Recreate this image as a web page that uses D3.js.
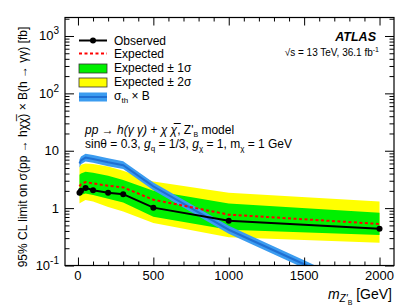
<!DOCTYPE html>
<html>
<head>
<meta charset="utf-8">
<script src="https://cdn.jsdelivr.net/npm/d3@7"></script>
<style>
  body { margin: 0; background: #fff; }
  text { font-family: "Liberation Sans", Arial, sans-serif; }
</style>
</head>
<body>
<svg id="chart" width="407" height="305"></svg>
<script>
// mass points (GeV) and limits (fb)
const mass = [10, 20, 50, 100, 200, 300, 500, 1000, 2000];
const observed = [1.85, 2.0, 2.25, 2.05, 1.85, 1.75, 1.02, 0.6, 0.435];
const expected = [2.4, 2.6, 2.85, 2.7, 2.45, 2.3, 1.4, 0.77, 0.53];
const plus1 = [3.8, 4.0, 4.3, 4.15, 3.65, 3.1, 2.0, 1.2, 0.83];
const minus1 = [1.6, 1.7, 1.8, 1.7, 1.45, 1.25, 0.71, 0.42, 0.34];
const plus2 = [5.3, 5.7, 6.0, 5.9, 5.3, 4.5, 2.9, 1.85, 1.3];
const minus2 = [1.2, 1.25, 1.38, 1.3, 1.05, 0.87, 0.55, 0.31, 0.25];
const thMass = [10, 20, 50, 100, 200, 300, 500, 1000, 1500, 2000];
const theory = [6.0, 6.8, 7.6, 7.2, 6.3, 5.6, 2.4, 0.42, 0.105, 0.026];

const xMajor = [0, 500, 1000, 1500, 2000];
const yMajor = [0.1, 1, 10, 100, 1000];
const yLabels = ["10<sup>-1</sup>", "1", "10", "10<sup>2</sup>", "10<sup>3</sup>"];

const svg = d3.select("#chart");
const area = { left: 65, right: 394, top: 17.5, bottom: 265.5 };

const x = d3.scaleLinear().domain([-86, 2096]).range([area.left, area.right]);
const y = d3.scaleLog().domain([0.1, 2100]).range([area.bottom, area.top]);

svg.append("clipPath").attr("id", "clip")
  .append("rect")
  .attr("x", area.left).attr("y", area.top)
  .attr("width", area.right - area.left).attr("height", area.bottom - area.top);

const plot = svg.append("g").attr("clip-path", "url(#clip)");

const band = (lo, hi) => d3.area()
  .x((d, i) => x(mass[i]))
  .y0((d, i) => y(lo[i]))
  .y1((d, i) => y(hi[i]));

plot.append("path").datum(mass).attr("d", band(minus2, plus2)).attr("fill", "#ffff00");
plot.append("path").datum(mass).attr("d", band(minus1, plus1)).attr("fill", "#00f000");

// theory band
const thBand = d3.area()
  .x((d, i) => x(thMass[i]))
  .y0((d, i) => y(theory[i] / 1.17))
  .y1((d, i) => y(theory[i] * 1.17));
plot.append("path").datum(thMass).attr("d", thBand).attr("fill", "#3b9cf0");
plot.append("path").datum(thMass)
  .attr("d", d3.line().x((d, i) => x(thMass[i])).y((d, i) => y(theory[i])))
  .attr("fill", "none").attr("stroke", "#1f6fd2").attr("stroke-width", 2);

plot.append("path").datum(mass)
  .attr("d", d3.line().x((d, i) => x(mass[i])).y((d, i) => y(expected[i])))
  .attr("fill", "none").attr("stroke", "#ff0000").attr("stroke-width", 2)
  .attr("stroke-dasharray", "3,2.5");

plot.append("path").datum(mass)
  .attr("d", d3.line().x((d, i) => x(mass[i])).y((d, i) => y(observed[i])))
  .attr("fill", "none").attr("stroke", "#000").attr("stroke-width", 2);

plot.selectAll("circle.obs").data(mass).join("circle")
  .attr("class", "obs")
  .attr("cx", d => x(d)).attr("cy", (d, i) => y(observed[i]))
  .attr("r", 3).attr("fill", "#000");

// axes, ticks inward on all sides
const xMinor = d3.range(0, 2001, 100).filter(v => v % 500 !== 0);
const yMinor = [];
[0.1, 1, 10, 100, 1000].forEach(b => {
  for (let k = 2; k <= 9; k++) if (b * k <= 2100) yMinor.push(b * k);
});

function ticks(axis, vals, size, tr) {
  const g = svg.append("g").attr("transform", tr)
    .call(axis.tickValues(vals).tickSize(size).tickFormat(""));
  g.select(".domain").remove();
  g.selectAll("line").attr("stroke", "#000");
  return g;
}
ticks(d3.axisBottom(x), xMajor, -8, `translate(0,${area.bottom})`);
ticks(d3.axisBottom(x), xMinor, -4, `translate(0,${area.bottom})`);
ticks(d3.axisTop(x), xMajor, -8, `translate(0,${area.top})`);
ticks(d3.axisTop(x), xMinor, -4, `translate(0,${area.top})`);
ticks(d3.axisLeft(y), yMajor, -9, `translate(${area.left},0)`);
ticks(d3.axisLeft(y), yMinor, -4.5, `translate(${area.left},0)`);
ticks(d3.axisRight(y), yMajor, -9, `translate(${area.right},0)`);
ticks(d3.axisRight(y), yMinor, -4.5, `translate(${area.right},0)`);

svg.append("rect")
  .attr("x", area.left).attr("y", area.top)
  .attr("width", area.right - area.left).attr("height", area.bottom - area.top)
  .attr("fill", "none").attr("stroke", "#000").attr("stroke-width", 1.2);

// tick labels
svg.append("g").selectAll("text").data(xMajor).join("text")
  .attr("x", d => x(d)).attr("y", 280)
  .attr("text-anchor", "middle").attr("font-size", 13)
  .text(d => d);

const yl = svg.append("g").selectAll("text").data(yMajor).join("text")
  .attr("x", 59).attr("y", d => y(d) + 4.5)
  .attr("text-anchor", "end").attr("font-size", 13);
yl.each(function(d, i) {
  const t = d3.select(this);
  const m = yLabels[i].match(/^(\d+)(?:<sup>(.+)<\/sup>)?$/);
  if (m[2]) {
    t.append("tspan").text(m[1]);
    t.append("tspan").attr("dy", -6).attr("font-size", 10).text(m[2]);
  } else {
    t.text(m[1]);
  }
});

// axis titles
const xt = svg.append("text").attr("x", 392).attr("y", 299)
  .attr("text-anchor", "end").attr("font-size", 14);
xt.append("tspan").attr("font-style", "italic").text("m");
xt.append("tspan").attr("dy", 3).attr("font-size", 10).attr("font-style", "italic").text("Z'");
xt.append("tspan").attr("dy", 3).attr("font-size", 7).text("B");
xt.append("tspan").attr("dy", -6).text(" [GeV]");

svg.append("text")
  .attr("transform", "translate(27,147) rotate(-90)")
  .attr("text-anchor", "middle").attr("font-size", 12)
  .text("95% CL limit on σ(pp → hχχ\u0305) × B(h → γγ) [fb]");

// legend
const leg = svg.append("g");
const lx0 = 79, lx1 = 107, tx = 114;
leg.append("line").attr("x1", lx0).attr("x2", lx1).attr("y1", 40.5).attr("y2", 40.5)
  .attr("stroke", "#000").attr("stroke-width", 2);
leg.append("circle").attr("cx", 93).attr("cy", 40.5).attr("r", 3).attr("fill", "#000");
leg.append("line").attr("x1", lx0).attr("x2", lx1).attr("y1", 53.5).attr("y2", 53.5)
  .attr("stroke", "#ff0000").attr("stroke-width", 2).attr("stroke-dasharray", "3,2.5");
leg.append("rect").attr("x", lx0).attr("y", 64).attr("width", lx1 - lx0).attr("height", 9)
  .attr("fill", "#00f000").attr("stroke", "#333").attr("stroke-width", 0.8);
leg.append("rect").attr("x", lx0).attr("y", 78).attr("width", lx1 - lx0).attr("height", 9)
  .attr("fill", "#ffff00").attr("stroke", "#333").attr("stroke-width", 0.8);
leg.append("rect").attr("x", lx0).attr("y", 92.5).attr("width", lx1 - lx0).attr("height", 9)
  .attr("fill", "#3b9cf0");
leg.append("line").attr("x1", lx0).attr("x2", lx1).attr("y1", 97).attr("y2", 97)
  .attr("stroke", "#1f6fd2").attr("stroke-width", 2);

const legText = [["Observed", 45], ["Expected", 58], ["Expected ± 1σ", 72], ["Expected ± 2σ", 86]];
legText.forEach(([s, yy]) => {
  leg.append("text").attr("x", tx).attr("y", yy).attr("font-size", 12).text(s);
});
const lt = leg.append("text").attr("x", tx).attr("y", 100).attr("font-size", 12);
lt.append("tspan").text("σ");
lt.append("tspan").attr("dy", 3).attr("font-size", 8).text("th");
lt.append("tspan").attr("dy", -3).text(" × B");

// ATLAS label
svg.append("text").attr("x", 376).attr("y", 41).attr("text-anchor", "end")
  .attr("font-size", 12.5).attr("font-weight", "bold").attr("font-style", "italic")
  .text("ATLAS");
const en = svg.append("text").attr("x", 379).attr("y", 56).attr("text-anchor", "end")
  .attr("font-size", 10);
en.append("tspan").text("√s = 13 TeV, 36.1 fb");
en.append("tspan").attr("dy", -4).attr("font-size", 7).text("-1");

// model text
const m1 = svg.append("text").attr("x", 85).attr("y", 134).attr("font-size", 12);
m1.append("tspan").attr("font-style", "italic").text("pp → h(γ γ) + χ χ\u0305");
m1.append("tspan").text(", Z'");
m1.append("tspan").attr("dy", 3).attr("font-size", 7).text("B");
m1.append("tspan").attr("dy", -3).text(" model");

const m2 = svg.append("text").attr("x", 85).attr("y", 148).attr("font-size", 12);
m2.append("tspan").text("sinθ = 0.3, ");
m2.append("tspan").attr("font-style", "italic").text("g");
m2.append("tspan").attr("dy", 3).attr("font-size", 8).text("q");
m2.append("tspan").attr("dy", -3).text(" = 1/3, ");
m2.append("tspan").attr("font-style", "italic").text("g");
m2.append("tspan").attr("dy", 3).attr("font-size", 8).text("χ");
m2.append("tspan").attr("dy", -3).text(" = 1, m");
m2.append("tspan").attr("dy", 3).attr("font-size", 8).text("χ");
m2.append("tspan").attr("dy", -3).text(" = 1 GeV");
</script>
</body>
</html>
